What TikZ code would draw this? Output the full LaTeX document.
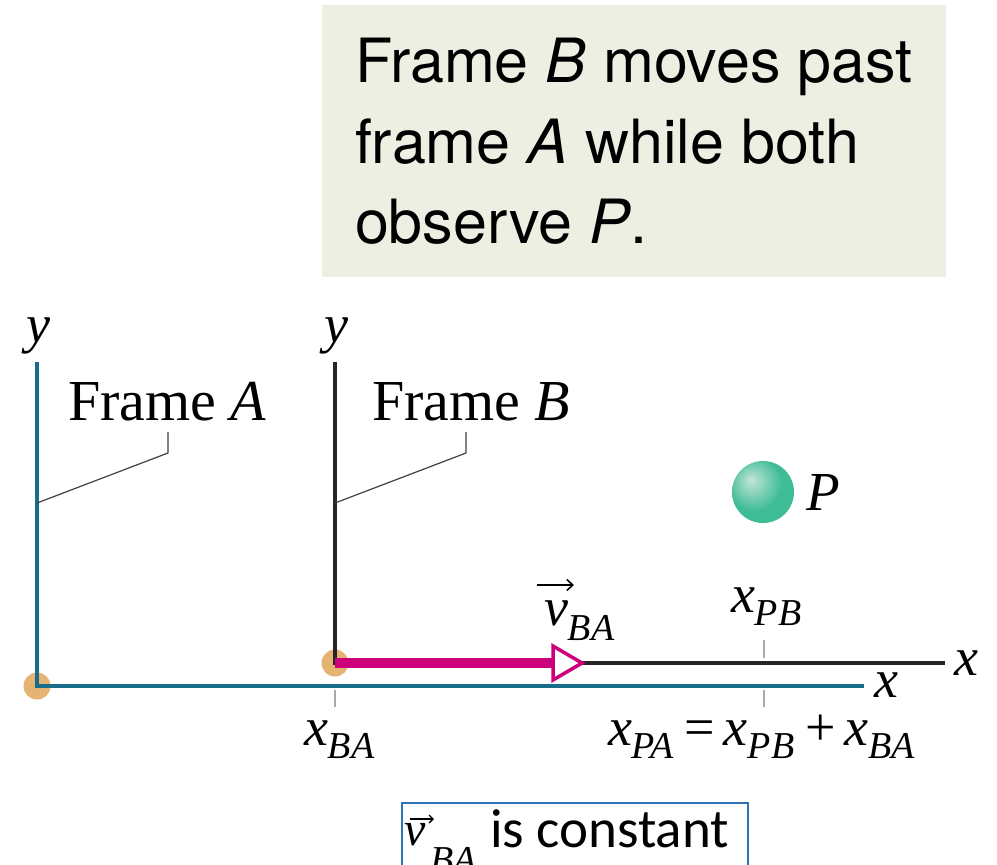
\documentclass[tikz,border=0pt]{standalone}
\usepackage{fontspec}
\setmainfont{Liberation Serif}
\newfontfamily\heros{TeX Gyre Heros}
\newfontfamily\calib{Carlito}
\usetikzlibrary{arrows.meta}
\definecolor{tealax}{RGB}{24,110,138}
\definecolor{boxbg}{RGB}{238,239,227}
\definecolor{dotc}{RGB}{230,180,114}
\definecolor{magc}{RGB}{204,0,122}
\definecolor{tickc}{RGB}{170,170,170}
\definecolor{blueb}{RGB}{46,117,182}
\definecolor{ballhi}{RGB}{196,230,217}
\definecolor{ballmid}{RGB}{62,188,150}
\definecolor{ballout}{RGB}{32,164,124}
\pgfdeclareradialshading{pball}{\pgfpoint{-10bp}{10bp}}{color(0bp)=(ballhi); color(22bp)=(ballmid); color(34bp)=(ballmid); color(44bp)=(ballout); color(70bp)=(ballout)}
\newcommand{\lbl}[2]{{\fontsize{54}{54}\selectfont\itshape #1}\raisebox{-13pt}{\fontsize{38}{38}\selectfont\itshape #2}}
\newcommand{\lblv}[2]{{\fontsize{54}{54}\selectfont\itshape #1}\raisebox{-15pt}{\fontsize{38}{38}\selectfont\itshape #2}}
\newcommand{\opsym}[1]{\hspace{11pt}{\fontsize{54}{54}\selectfont #1}\hspace{9pt}}
\begin{document}
\begin{tikzpicture}[x=1pt,y=-1pt,
  lab/.style={inner sep=0pt, outer sep=0pt},
  axA/.style={draw=tealax, line width=3.2pt},
  axB/.style={draw=black!85, line width=3.2pt},
  leader/.style={draw=black!75, line width=1.2pt},
  tickmark/.style={draw=tickc, line width=2.4pt},
  serifbig/.style={lab, font=\fontsize{54}{54}\selectfont},
  captext/.style={lab, anchor=base west, font=\heros\fontsize{61}{61}\selectfont}]
\useasboundingbox (0,0) rectangle (997,865);
% caption box
\fill[boxbg] (322,5) rectangle (946,277);
\node[captext] (t1) at (355,82) {Frame \textit{B} moves past};
\node[captext] (t2) at (355,163) {frame \textit{A} while both};
\node[captext] (t3) at (355,243) {observe \textit{P}.};
% coordinates
\coordinate (OA) at (37,686);
\coordinate (yA) at (37,362);
\coordinate (xA) at (864,686);
\coordinate (OB) at (335,663);
\coordinate (yB) at (335,362);
\coordinate (xB) at (945,663);
\coordinate (vtip) at (582,663);
\coordinate (vbase) at (553,663);
% dots
\fill[dotc] (OA) circle (13.5);
\fill[dotc] (OB) circle (13.5);
% axes
\draw[axA] (yA) -- (OA) -- (xA);
\draw[axB] (yB) -- (OB) -- (xB);
% velocity arrow
\draw[magc, line width=10pt] (OB) -- (vbase);
\draw[magc, line width=3.5pt, fill=white, line join=miter] (553,646) -- (vtip) -- (553,680) -- cycle;
% axis labels
\node[serifbig, anchor=base] (ylA) at (38,342) {\itshape y};
\node[serifbig, anchor=base] (ylB) at (336,342) {\itshape y};
\node[serifbig, anchor=base west] (xlA) at (874,697) {\itshape x};
\node[serifbig, anchor=base west] (xlB) at (954,675) {\itshape x};
% frame labels and leaders
\node[lab, anchor=base west, font=\fontsize{58}{58}\selectfont] (fA) at (68,420) {Frame \textit{A}};
\node[lab, anchor=base west, font=\fontsize{58}{58}\selectfont] (fB) at (372,420) {Frame \textit{B}};
\coordinate (lA1) at (37,503);
\coordinate (lA2) at (168,453);
\coordinate (lA3) at (168,432);
\coordinate (lB1) at (335,503);
\coordinate (lB2) at (466,453);
\coordinate (lB3) at (466,432);
\draw[leader] (lA1) -- (lA2) -- (lA3);
\draw[leader] (lB1) -- (lB2) -- (lB3);
% ticks
\coordinate (tk1a) at (335,690); \coordinate (tk1b) at (335,707);
\coordinate (tk2a) at (764,690); \coordinate (tk2b) at (764,707);
\coordinate (tk3a) at (764,640); \coordinate (tk3b) at (764,658);
\draw[tickmark] (tk1a) -- (tk1b);
\draw[tickmark] (tk2a) -- (tk2b);
\draw[tickmark] (tk3a) -- (tk3b);
% ball P
\shade[shading=pball] (763,492) circle (31);
\node[lab, anchor=base west, font=\fontsize{55}{55}\selectfont] (P) at (806,510) {\itshape P};
% labels
\node[lab, anchor=base west] (vBA) at (544,625) {\lblv{v}{BA}};
\coordinate (va1) at (537,585);
\coordinate (va2) at (574,585);
\draw[line width=1.6pt, -{Straight Barb[length=6pt,width=11pt]}] (va1) -- (va2);
\node[lab, anchor=base west] (xPB) at (731,612) {\lbl{x}{PB}};
\node[lab, anchor=base west] (xBA) at (304,745) {\lbl{x}{BA}};
\node[lab, anchor=base west] (xPA) at (608,745) {\lbl{x}{PA}\opsym{=}\lbl{x}{PB}\opsym{+}\lbl{x}{BA}};
% bottom note box
\draw[blueb, line width=1.6pt] (402,803) rectangle (748,900);
\node[lab, anchor=base west, font=\fontsize{48}{48}\selectfont\itshape] (vb) at (404,845) {v};
\node[lab, anchor=base west, font=\fontsize{38}{38}\selectfont\itshape] (vbsub) at (430,872) {BA};
\coordinate (vb1) at (410,819);
\coordinate (vb2) at (434,819);
\draw[line width=1.3pt, -{Straight Barb[length=4pt,width=8pt]}] (vb1) -- (vb2);
\node[lab, anchor=base west, font=\calib\fontsize{55}{55}\selectfont] (note) at (490,847) {is constant};
\end{tikzpicture}
\end{document}
